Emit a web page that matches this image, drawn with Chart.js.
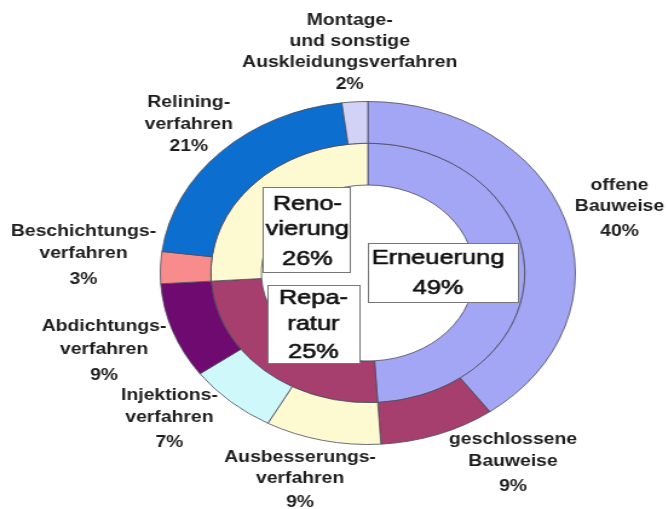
<!DOCTYPE html>
<html>
<head>
<meta charset="utf-8">
<script src="https://cdn.jsdelivr.net/npm/chart.js@4.4.1/dist/chart.umd.min.js"></script>
<style>
  html, body { margin: 0; padding: 0; background: #fff; overflow: hidden; }
  /* the source picture is stretched sideways, so stretch the whole drawing the same way */
  #wrap { width: 552px; height: 509px; transform: scaleX(1.21); transform-origin: 0 0; }
</style>
</head>
<body>
<div id="wrap"><canvas id="chart" width="552" height="509"></canvas></div>
<script>
(function(Chart) {
  'use strict';

  // outer ring: single methods
  var methodNames  = [
    ['offene', 'Bauweise'],
    ['geschlossene', 'Bauweise'],
    ['Ausbesserungs-', 'verfahren'],
    ['Injektions-', 'verfahren'],
    ['Abdichtungs-', 'verfahren'],
    ['Beschichtungs-', 'verfahren'],
    ['Relining-', 'verfahren'],
    ['Montage-', 'und sonstige', 'Auskleidungsverfahren']
  ];
  var methodValues = [40, 9, 9, 7, 9, 3, 21, 2];
  var methodColors = ['#a3a6f4', '#a63e6e', '#fdfad2', '#cff8fb', '#6f0a70', '#f88c8c', '#0c6ecf', '#d2d2f7'];

  // inner ring: groups
  var groupNames  = [['Erneuerung'], ['Repa-', 'ratur'], ['Reno-', 'vierung']];
  var groupValues = [49, 25, 26];
  var groupColors = ['#a3a6f4', '#a63e6e', '#fdfad2'];

  // label layout (canvas px, before the sideways stretch)
  var methodLabelPos = [
    { x: 512, y: [186, 207, 232] },
    { x: 424, y: [440, 462, 487] },
    { x: 248, y: [458, 479, 503] },
    { x: 140, y: [396, 418, 443] },
    { x: 86,  y: [327, 350, 376] },
    { x: 69,  y: [232, 254, 280] },
    { x: 156, y: [103, 125, 147] },
    { x: 289, y: [21, 42, 63, 85] }
  ];
  var groupBoxes = [
    { x0: 304, y0: 243, x1: 428, y1: 302, x: 362, y: [258, 288] },
    { x0: 221, y0: 285, x1: 297, y1: 363, x: 259, y: [298, 324, 352] },
    { x0: 217, y0: 187, x1: 289, y1: 272, x: 254, y: [204, 229, 259] }
  ];

  var labelPlugin = {
    id: 'ringLabels',
    afterDatasetsDraw: function(chart) {
      var ctx = chart.ctx;
      ctx.save();
      ctx.textAlign = 'center';
      ctx.textBaseline = 'middle';

      ctx.font = 'bold 16px "Liberation Sans", Arial, sans-serif';
      ctx.fillStyle = '#1e1e1e';
      methodNames.forEach(function(lines, i) {
        var pos = methodLabelPos[i];
        var all = lines.concat([methodValues[i] + '%']);
        all.forEach(function(t, j) { ctx.fillText(t, pos.x, pos.y[j]); });
      });

      ctx.font = '21px "Liberation Sans", Arial, sans-serif';
      groupNames.forEach(function(lines, i) {
        var b = groupBoxes[i];
        ctx.fillStyle = '#fff';
        ctx.fillRect(b.x0, b.y0, b.x1 - b.x0, b.y1 - b.y0);
        ctx.strokeStyle = '#777';
        ctx.lineWidth = 1;
        ctx.strokeRect(b.x0 + 0.5, b.y0 + 0.5, b.x1 - b.x0, b.y1 - b.y0);
        ctx.fillStyle = '#111';
        ctx.strokeStyle = '#111';
        ctx.lineWidth = 0.6;
        var all = lines.concat([groupValues[i] + '%']);
        all.forEach(function(t, j) {
          ctx.fillText(t, b.x, b.y[j]);
          ctx.strokeText(t, b.x, b.y[j]);
        });
      });
      ctx.restore();
    }
  };

  new Chart(document.getElementById('chart'), {
    type: 'doughnut',
    data: {
      labels: methodNames.map(function(l) { return l.join(' '); }),
      datasets: [
        { data: methodValues, backgroundColor: methodColors, borderColor: '#4a4a5a', borderWidth: 0.8 },
        { data: groupValues, backgroundColor: groupColors, borderColor: '#4a4a5a', borderWidth: 0.8 }
      ]
    },
    options: {
      responsive: false,
      animation: false,
      radius: 171.5,
      cutout: '51.3%',
      layout: { padding: { left: 56, right: 0, top: 37, bottom: 0 } },
      plugins: { legend: { display: false }, tooltip: { enabled: false } }
    },
    plugins: [labelPlugin]
  });

}(Chart));
</script>
</body>
</html>
